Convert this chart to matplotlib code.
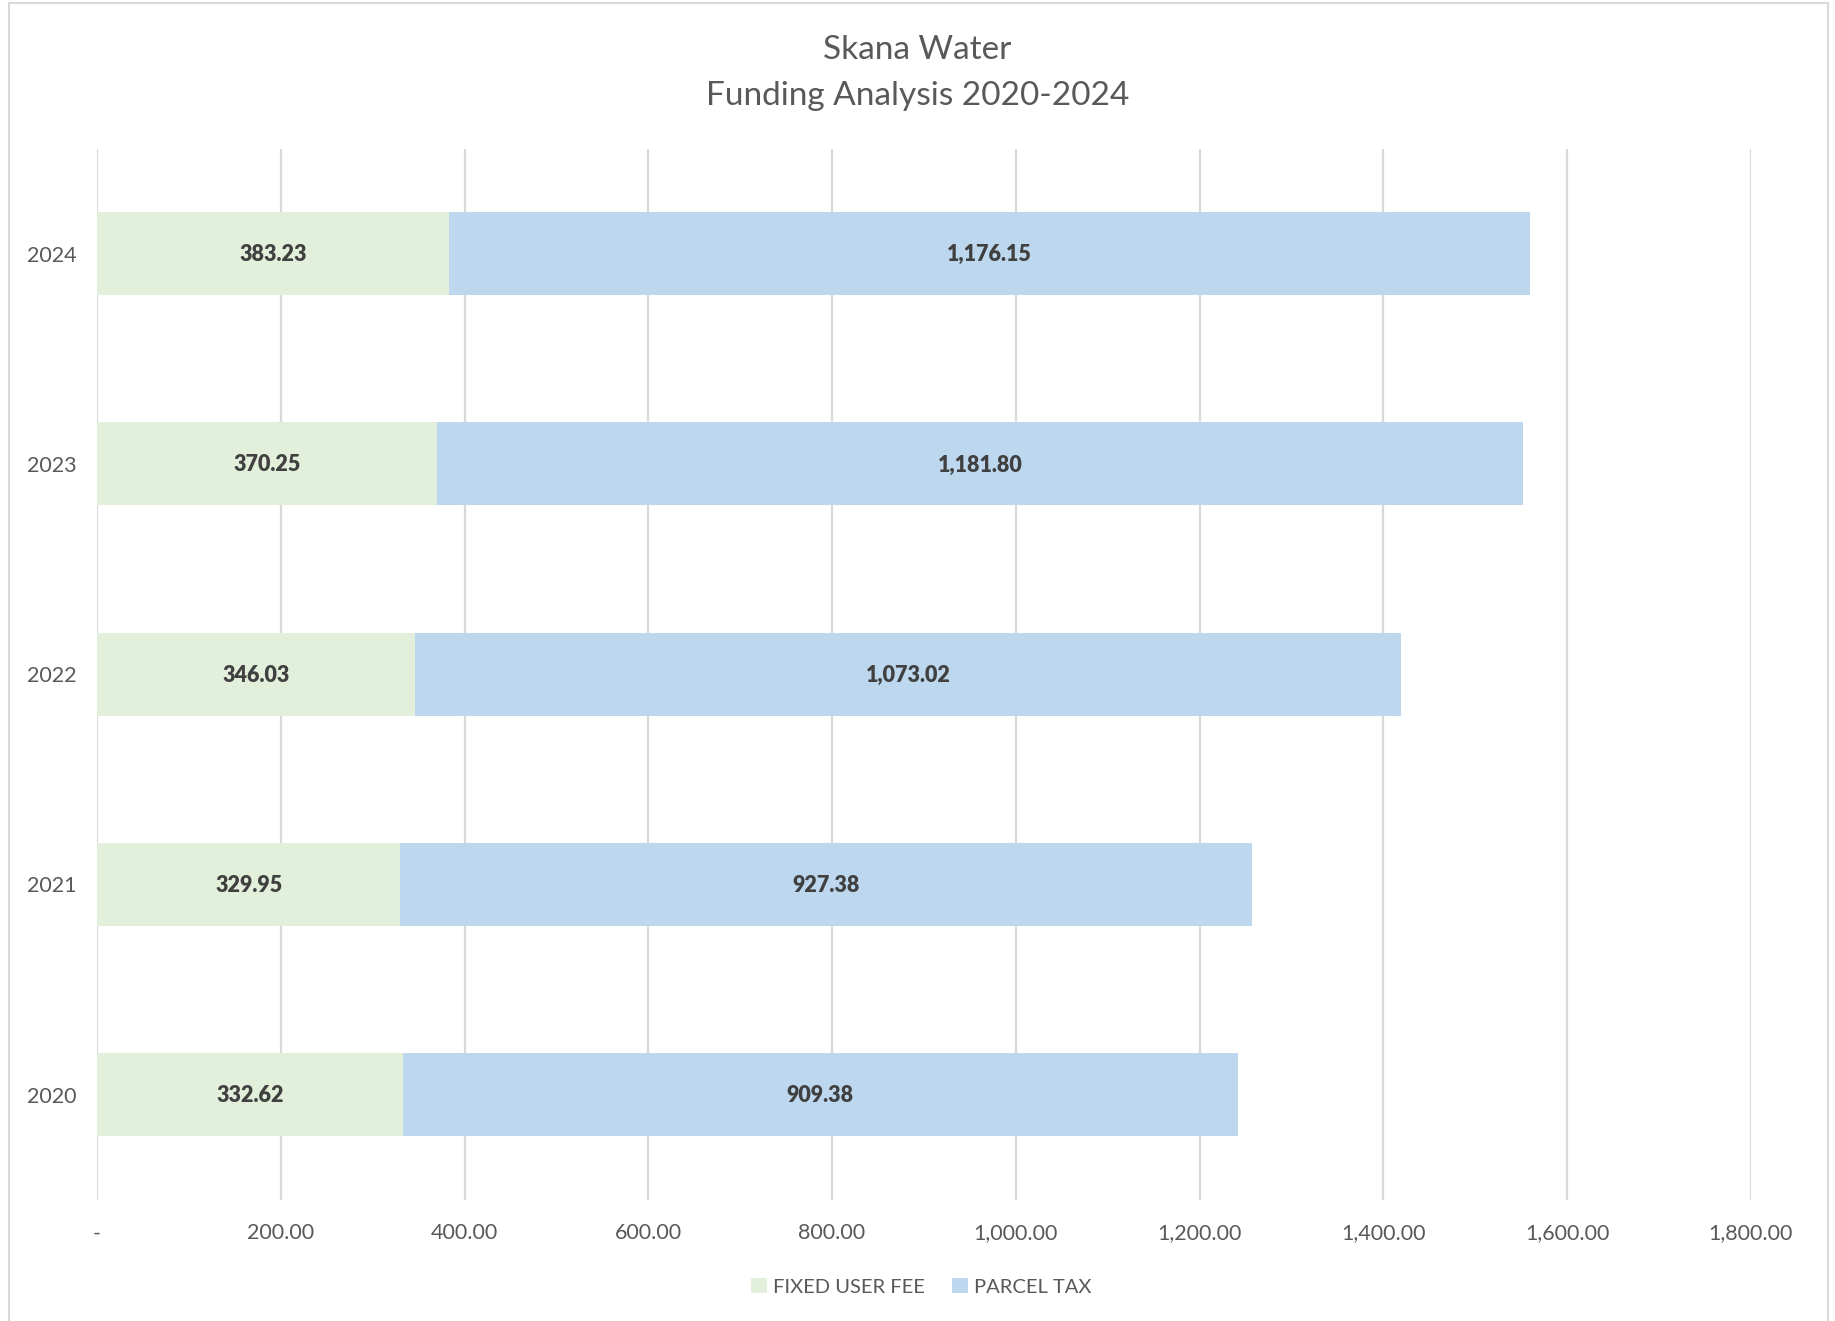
import matplotlib
matplotlib.use("Agg")
import matplotlib.pyplot as plt
import numpy as np
from matplotlib.lines import Line2D
from matplotlib.patches import Patch

# data
years = ["2020", "2021", "2022", "2023", "2024"]
fixed_user_fee = [332.62, 329.95, 346.03, 370.25, 383.23]
parcel_tax = [909.38, 927.38, 1073.02, 1181.80, 1176.15]
x_ticks = [0, 200, 400, 600, 800, 1000, 1200, 1400, 1600, 1800]

green = "#E2EFDA"
blue = "#BDD7EE"
grey_text = "#595959"
label_text = "#404040"

plt.rcParams["font.family"] = ["Lato", "DejaVu Sans"]

fig = plt.figure(figsize=(18.35, 13.21), dpi=100)
ax = fig.add_axes([0.0529, 0.0919, 0.9012, 0.7956])

y = np.arange(len(years))
bar_h = 0.394
ax.barh(y, fixed_user_fee, height=bar_h, color=green, zorder=2)
ax.barh(y, parcel_tax, left=fixed_user_fee, height=bar_h, color=blue, zorder=2)

# value labels centred inside each segment
for i in range(len(years)):
    ax.text(fixed_user_fee[i] / 2, y[i] - 0.005, f"{fixed_user_fee[i]:,.2f}",
            ha="center", va="center", fontsize=15.5, fontweight="heavy",
            color=label_text, zorder=3)
    ax.text(fixed_user_fee[i] + parcel_tax[i] / 2, y[i] - 0.005, f"{parcel_tax[i]:,.2f}",
            ha="center", va="center", fontsize=15.5, fontweight="heavy",
            color=label_text, zorder=3)

ax.set_xlim(0, 1800)
ax.set_ylim(-0.5, 4.5)
ax.set_xticks(x_ticks)
ax.set_xticklabels(["-" if v == 0 else f"{v:,.2f}" for v in x_ticks])
ax.set_yticks(y)
ax.set_yticklabels(years)
ax.tick_params(axis="both", length=0, labelsize=15.5, colors=grey_text)
ax.tick_params(axis="x", pad=17)
ax.tick_params(axis="y", pad=15)

ax.grid(axis="x", color="#D9D9D9", linewidth=1.6, zorder=1)
for side in ["top", "right", "bottom", "left"]:
    ax.spines[side].set_visible(False)

fig.text(0.5, 0.962, "Skana Water", ha="center", va="center",
         fontsize=24, color=grey_text)
fig.text(0.5, 0.927, "Funding Analysis 2020-2024", ha="center", va="center",
         fontsize=24, color=grey_text)

handles = [Patch(facecolor=green, label="FIXED USER FEE"),
           Patch(facecolor=blue, label="PARCEL TAX")]
fig.legend(handles=handles, loc="center", bbox_to_anchor=(0.502, 0.026),
           ncol=2, frameon=False, fontsize=14.5, labelcolor=grey_text,
           handlelength=0.8, handleheight=0.8, handletextpad=0.3,
           columnspacing=1.3)

# chart area border (left, top, right)
bx0, bx1 = 9 / 1835, 1828 / 1835
by0, by1 = 0.0, 1 - 3 / 1321
fig.add_artist(Line2D([bx0, bx0, bx1, bx1], [by0, by1, by1, by0],
                      transform=fig.transFigure, color="#D9D9D9", linewidth=1.5))

fig.savefig("out.png", dpi=100)
